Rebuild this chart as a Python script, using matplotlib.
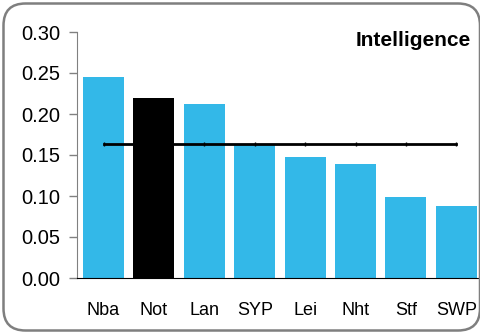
import matplotlib.pyplot as plt
from matplotlib.patches import FancyBboxPatch

plt.rcParams['font.family'] = ['Liberation Sans', 'DejaVu Sans']

# regional scores
regions = ['Nba', 'Not', 'Lan', 'SYP', 'Lei', 'Nht', 'Stf', 'SWP']
scores = [0.245, 0.219, 0.212, 0.163, 0.148, 0.139, 0.099, 0.088]
average = 0.164
highlight = 'Not'

colors = ['black' if r == highlight else '#33b8e8' for r in regions]

fig = plt.figure(figsize=(4.81, 3.32), dpi=100)
ax = fig.add_axes([77 / 481, 54 / 332, 403 / 481, 246 / 332])

x = range(len(regions))
ax.bar(x, scores, width=0.81, color=colors)
ax.plot(x, [average] * len(regions), color='black', lw=2,
        marker='|', markersize=3, markeredgewidth=1)

ax.set_xlim(-0.526, 7.47)
ax.set_ylim(0, 0.30)
ax.set_yticks([0, 0.05, 0.10, 0.15, 0.20, 0.25, 0.30])
ax.set_yticklabels(['0.00', '0.05', '0.10', '0.15', '0.20', '0.25', '0.30'])
ax.set_xticks(list(x))
ax.set_xticklabels(regions)
ax.tick_params(axis='y', direction='out', length=6, width=1, color='#808080',
               labelsize=14.5, pad=6)
ax.tick_params(axis='x', length=0, labelsize=13, pad=17)

for side in ['top', 'right']:
    ax.spines[side].set_visible(False)
ax.spines['left'].set_color('#808080')
ax.spines['bottom'].set_color('black')

ax.text(0.978, 0.943, 'Intelligence', transform=ax.transAxes, ha='right',
        va='baseline', fontsize=15, fontweight='bold')

# rounded frame around the whole chart (sizes in inches)
frame = FancyBboxPatch((0.035, 0.015), 4.765, 3.27,
                       boxstyle='round,pad=0,rounding_size=0.22',
                       transform=fig.dpi_scale_trans, facecolor='none',
                       edgecolor='#7f7f7f', lw=1.8)
fig.patches.append(frame)

fig.savefig('out.png', dpi=100)
